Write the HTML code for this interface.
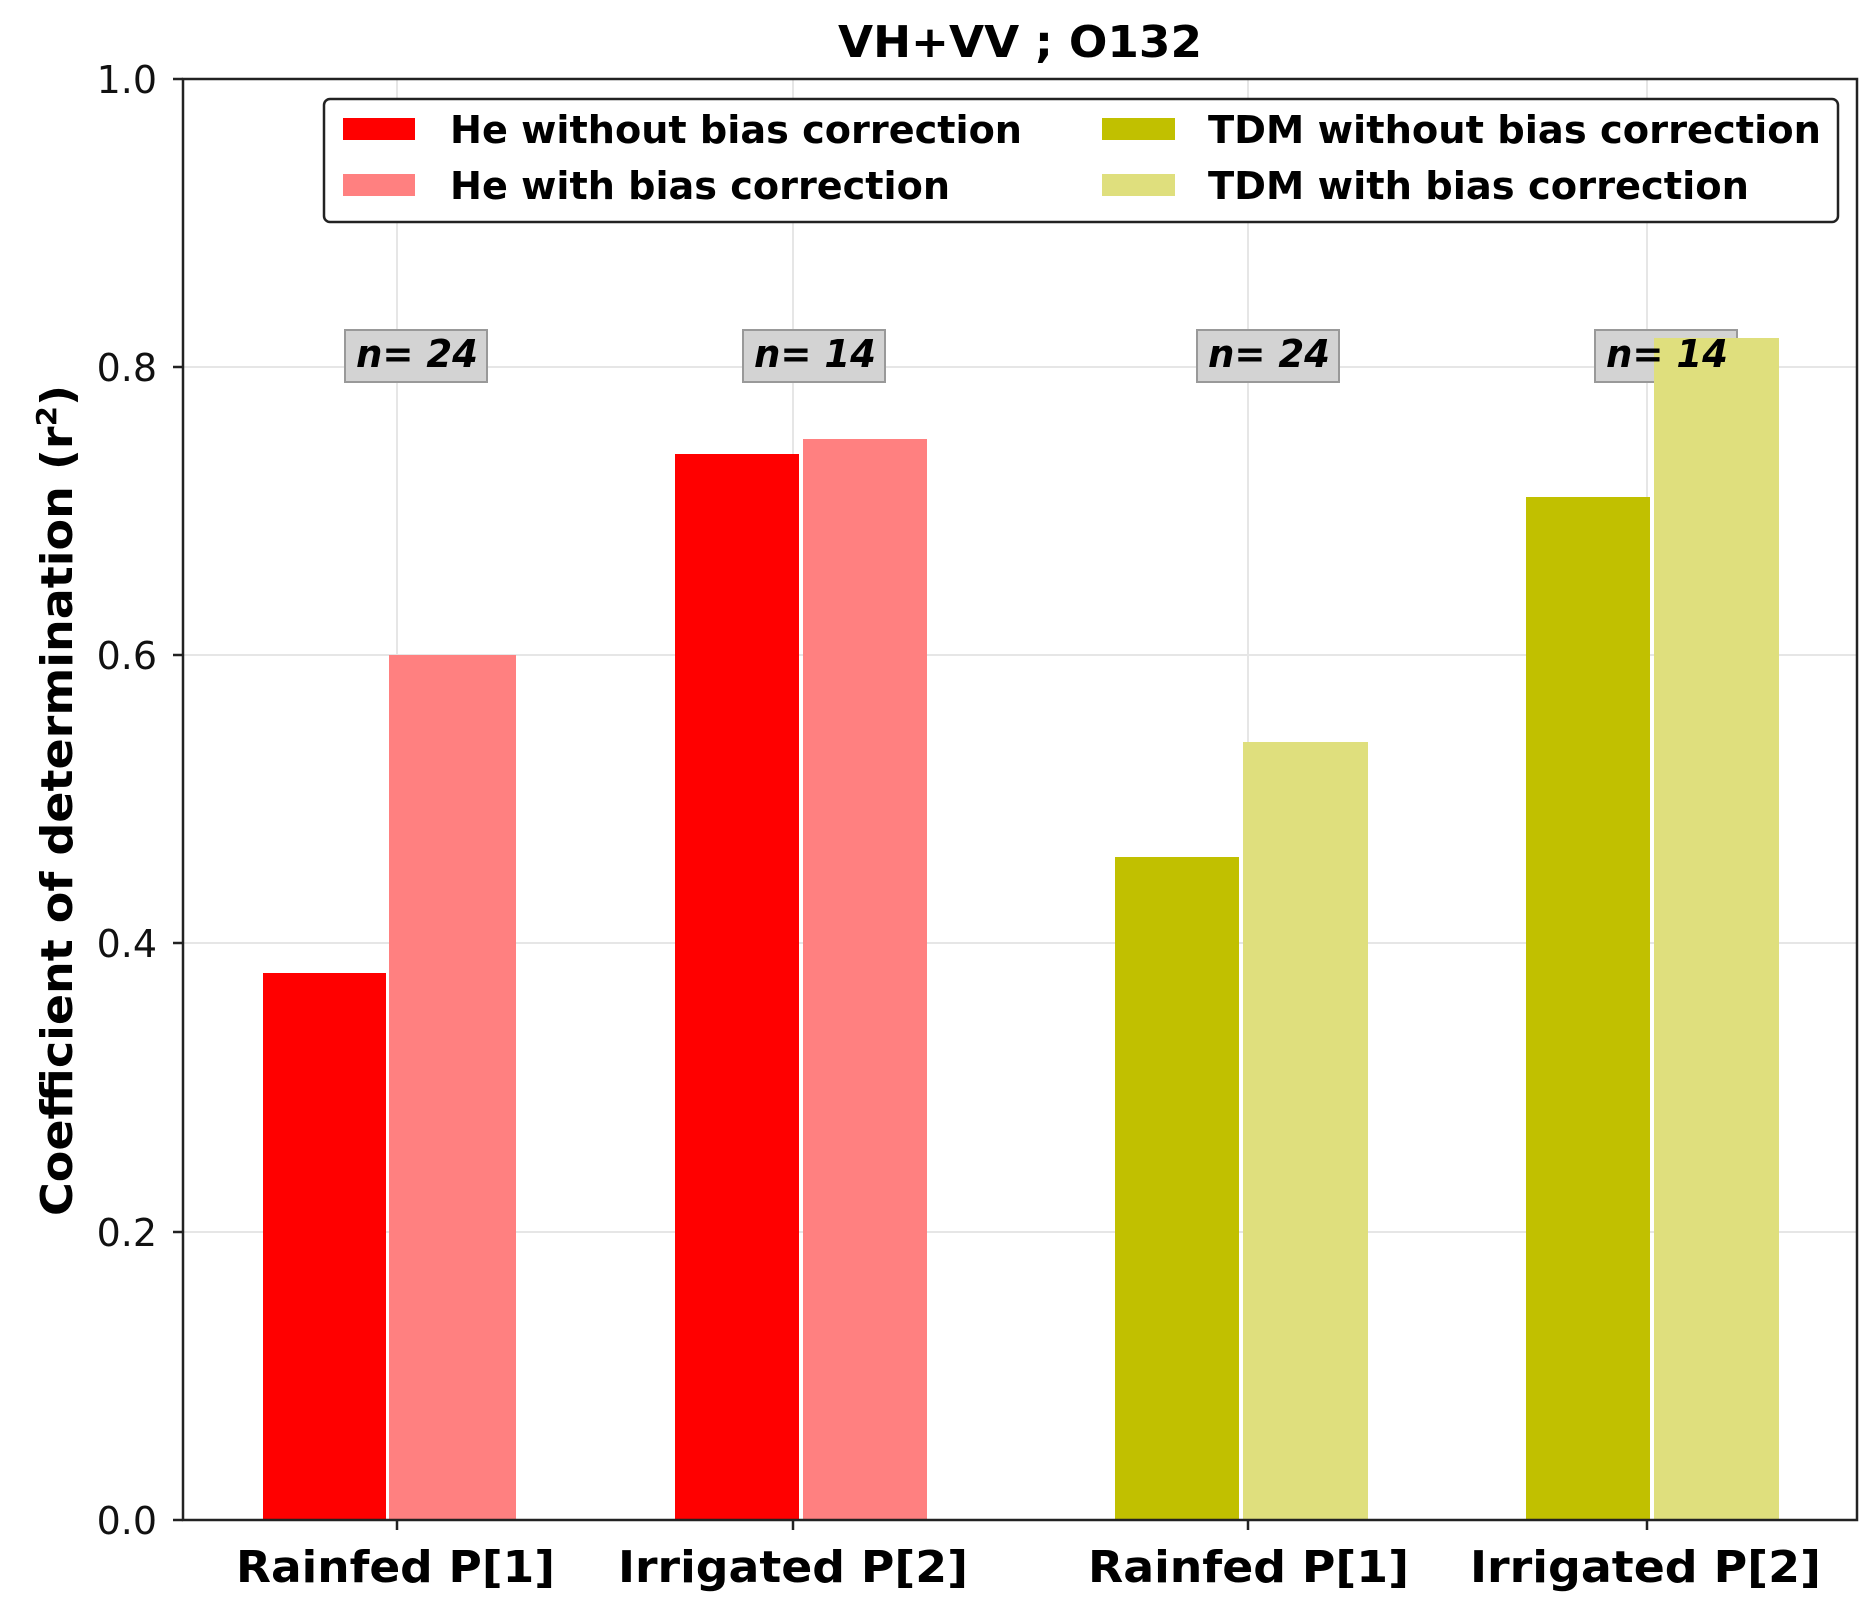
<!DOCTYPE html>
<html><head><meta charset="utf-8"><style>body{margin:0;background:#fff}svg{display:block}</style></head>
<body>
<svg width="1875" height="1603" viewBox="0 0 1875 1603" xmlns="http://www.w3.org/2000/svg" font-family="DejaVu Sans, Liberation Sans, sans-serif">
<rect width="1875" height="1603" fill="#fff"/>
<!-- grid -->
<g stroke="#e6e6e6" stroke-width="2">
<line x1="183" x2="1857" y1="367" y2="367"/><line x1="183" x2="1857" y1="655" y2="655"/>
<line x1="183" x2="1857" y1="943" y2="943"/><line x1="183" x2="1857" y1="1232" y2="1232"/>
<line x1="397" x2="397" y1="79" y2="1520"/><line x1="793" x2="793" y1="79" y2="1520"/>
<line x1="1248" x2="1248" y1="79" y2="1520"/><line x1="1647" x2="1647" y1="79" y2="1520"/>
</g>
<!-- n boxes -->
<g fill="#d3d3d3" stroke="#999" stroke-width="2">
<rect x="345" y="330" width="142" height="52"/><rect x="743" y="330" width="142" height="52"/>
<rect x="1197" y="330" width="142" height="52"/><rect x="1595" y="330" width="142" height="52"/>
</g>
<!-- bars -->
<rect x="263" y="973" width="123" height="547" fill="#ff0000"/>
<rect x="389" y="655" width="127" height="865" fill="#ff8080"/>
<rect x="675" y="454" width="124" height="1066" fill="#ff0000"/>
<rect x="803" y="439" width="124" height="1081" fill="#ff8080"/>
<rect x="1115" y="857" width="124" height="663" fill="#c1c000"/>
<rect x="1243" y="742" width="125" height="778" fill="#dfdf7d"/>
<rect x="1526" y="497" width="124" height="1023" fill="#c1c000"/>
<rect x="1654" y="338" width="125" height="1182" fill="#dfdf7d"/>
<g font-weight="bold" font-style="italic" font-size="38" fill="#000">
<text x="356" y="367" textLength="122" lengthAdjust="spacingAndGlyphs">n= 24</text>
<text x="754" y="367" textLength="122" lengthAdjust="spacingAndGlyphs">n= 14</text>
<text x="1208" y="367" textLength="122" lengthAdjust="spacingAndGlyphs">n= 24</text>
<text x="1606" y="367" textLength="122" lengthAdjust="spacingAndGlyphs">n= 14</text>
</g>
<!-- axes -->
<rect x="183" y="79" width="1674" height="1441" fill="none" stroke="#222" stroke-width="2.5"/>
<g stroke="#222" stroke-width="2.5">
<line x1="173" x2="183" y1="79" y2="79"/><line x1="173" x2="183" y1="367" y2="367"/><line x1="173" x2="183" y1="655" y2="655"/>
<line x1="173" x2="183" y1="943" y2="943"/><line x1="173" x2="183" y1="1232" y2="1232"/><line x1="173" x2="183" y1="1520" y2="1520"/>
<line x1="397" x2="397" y1="1520" y2="1530"/><line x1="793" x2="793" y1="1520" y2="1530"/>
<line x1="1248" x2="1248" y1="1520" y2="1530"/><line x1="1647" x2="1647" y1="1520" y2="1530"/>
</g>
<g font-size="38" text-anchor="end" fill="#111">
<text x="157" y="93">1.0</text><text x="157" y="381">0.8</text><text x="157" y="669">0.6</text>
<text x="157" y="957">0.4</text><text x="157" y="1246">0.2</text><text x="157" y="1534">0.0</text>
</g>
<g font-weight="bold" font-size="44" fill="#000">
<text x="236" y="1582" textLength="319" lengthAdjust="spacingAndGlyphs">Rainfed P[1]</text>
<text x="618" y="1582" textLength="350" lengthAdjust="spacingAndGlyphs">Irrigated P[2]</text>
<text x="1088" y="1582" textLength="321" lengthAdjust="spacingAndGlyphs">Rainfed P[1]</text>
<text x="1470" y="1582" textLength="351" lengthAdjust="spacingAndGlyphs">Irrigated P[2]</text>
<text x="838" y="57" textLength="364" lengthAdjust="spacingAndGlyphs">VH+VV ; O132</text>
<text transform="translate(72,1216) rotate(-90)" textLength="831" lengthAdjust="spacingAndGlyphs">Coefficient of determination (r<tspan font-size="28" dy="-16">2</tspan><tspan dy="16">)</tspan></text>
</g>
<!-- legend -->
<rect x="324" y="99" width="1514" height="123" rx="6" fill="#fff" stroke="#222" stroke-width="2.5"/>
<rect x="343" y="118" width="72" height="22" fill="#ff0000"/>
<rect x="343" y="174" width="72" height="22" fill="#ff8080"/>
<rect x="1102" y="118" width="73" height="22" fill="#c1c000"/>
<rect x="1102" y="174" width="73" height="22" fill="#dfdf7d"/>
<g font-weight="bold" font-size="38" fill="#000">
<text x="450" y="143" textLength="572" lengthAdjust="spacingAndGlyphs">He without bias correction</text>
<text x="450" y="199" textLength="500" lengthAdjust="spacingAndGlyphs">He with bias correction</text>
<text x="1208" y="143" textLength="613" lengthAdjust="spacingAndGlyphs">TDM without bias correction</text>
<text x="1208" y="199" textLength="541" lengthAdjust="spacingAndGlyphs">TDM with bias correction</text>
</g>
</svg>
</body></html>
